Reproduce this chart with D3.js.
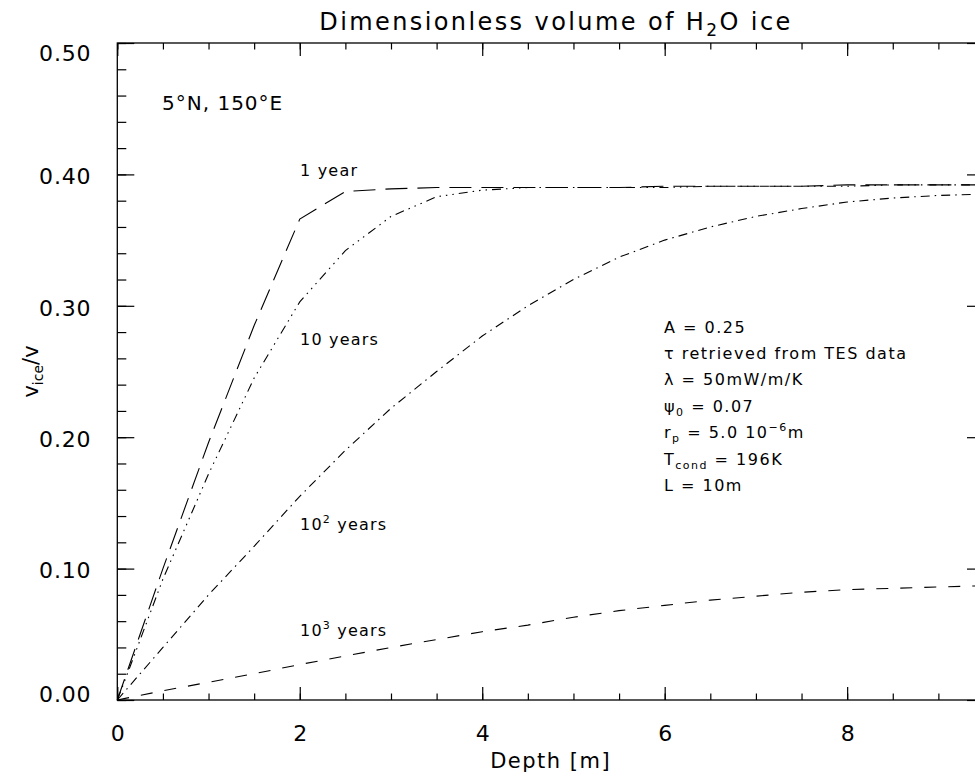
<!DOCTYPE html>
<html>
<head>
<meta charset="utf-8">
<script src="https://cdn.jsdelivr.net/npm/d3@7"></script>
<style>
  body { margin: 0; background: #fff; }
  text { font-family: "DejaVu Sans", sans-serif; fill: #000; }
</style>
</head>
<body>
<div id="chart"></div>
<script>
var width = 975;
var height = 779;

// depth grid [m]
var depth = [0, 0.1, 0.5, 1, 1.5, 2, 2.5, 3, 3.5, 4, 4.5, 5, 5.5, 6, 6.5, 7, 7.5, 8, 8.5, 9, 9.5];

// dimensionless ice volume for each age
var ice1 = [0, 0.02, 0.1, 0.196, 0.285, 0.366, 0.387, 0.389, 0.390, 0.390, 0.390, 0.390, 0.390, 0.391, 0.391, 0.391, 0.391, 0.392, 0.392, 0.392, 0.392];
var ice10 = [0, 0.018, 0.092, 0.172, 0.245, 0.303, 0.342, 0.368, 0.383, 0.388, 0.390, 0.390, 0.390, 0.390, 0.391, 0.391, 0.391, 0.391, 0.392, 0.392, 0.392];
var ice100 = [0, 0.008, 0.04, 0.08, 0.117, 0.155, 0.19, 0.222, 0.25, 0.277, 0.30, 0.32, 0.337, 0.35, 0.36, 0.368, 0.374, 0.379, 0.382, 0.384, 0.385];
var ice1000 = [0, 0.0014, 0.007, 0.0135, 0.020, 0.027, 0.0335, 0.040, 0.046, 0.052, 0.057, 0.063, 0.068, 0.072, 0.076, 0.079, 0.082, 0.084, 0.085, 0.086, 0.087];

var xTicks = [0, 2, 4, 6, 8];
var yTicks = [0, 0.1, 0.2, 0.3, 0.4, 0.5];

var params = ["A = 0.25", "τ retrieved from TES data", "λ = 50mW/m/K", "ψ0 = 0.07", "rp = 5.0 10-6m", "Tcond = 196K", "L = 10m"];

var plotLeft = 117.3, plotRight = 984, plotTop = 43, plotBottom = 700;

var xScale = d3.scaleLinear().domain([0, 9.5]).range([plotLeft, plotRight]);
var yScale = d3.scaleLinear().domain([0, 0.5]).range([plotBottom, plotTop]);

var svg = d3.select("#chart")
    .append("svg")
    .attr("width", width)
    .attr("height", height);

// frame
var xMinor = d3.range(0, 9.51, 0.5);
var yMinor = d3.range(0, 0.501, 0.02);

svg.append("g")
    .attr("transform", "translate(0," + plotBottom + ")")
    .call(d3.axisBottom(xScale).tickValues(xMinor).tickSize(-6.5).tickFormat(""))
    .call(function(g) { g.select(".domain").remove(); });
svg.append("g")
    .attr("transform", "translate(0," + plotBottom + ")")
    .call(d3.axisBottom(xScale).tickValues(xTicks).tickSize(-13).tickPadding(22).tickFormat(d3.format("d")))
    .call(function(g) {
        g.select(".domain").remove();
        g.selectAll("text").attr("font-size", 22).attr("font-family", "DejaVu Sans").attr("dy", "0.85em");
    });
svg.append("g")
    .attr("transform", "translate(0," + plotTop + ")")
    .call(d3.axisTop(xScale).tickValues(xMinor).tickSize(-6.5).tickFormat(""))
    .call(function(g) { g.select(".domain").remove(); });
svg.append("g")
    .attr("transform", "translate(0," + plotTop + ")")
    .call(d3.axisTop(xScale).tickValues(xTicks).tickSize(-13).tickFormat(""))
    .call(function(g) { g.select(".domain").remove(); });

svg.append("g")
    .attr("transform", "translate(" + plotLeft + ",0)")
    .call(d3.axisLeft(yScale).tickValues(yMinor).tickSize(-9).tickFormat(""))
    .call(function(g) { g.select(".domain").remove(); });
svg.append("g")
    .attr("transform", "translate(" + plotLeft + ",0)")
    .call(d3.axisLeft(yScale).tickValues(yTicks).tickSize(-17).tickPadding(26).tickFormat(d3.format(".2f")))
    .call(function(g) {
        g.select(".domain").remove();
        g.selectAll("text")
            .attr("font-size", 22).attr("font-family", "DejaVu Sans").attr("letter-spacing", 0.8)
            .attr("dy", function(d) { return d == 0.5 ? "0.8em" : (d == 0 ? "0.05em" : "0.42em"); });
    });
svg.append("g")
    .attr("transform", "translate(" + plotRight + ",0)")
    .call(d3.axisRight(yScale).tickValues(yMinor).tickSize(-9).tickFormat(""))
    .call(function(g) { g.select(".domain").remove(); });
svg.append("g")
    .attr("transform", "translate(" + plotRight + ",0)")
    .call(d3.axisRight(yScale).tickValues(yTicks).tickSize(-17).tickFormat(""))
    .call(function(g) { g.select(".domain").remove(); });

svg.selectAll(".tick line").attr("stroke", "#000").attr("stroke-width", 1.2);

svg.append("rect")
    .attr("x", plotLeft).attr("y", plotTop)
    .attr("width", plotRight - plotLeft).attr("height", plotBottom - plotTop)
    .attr("fill", "none").attr("stroke", "#000").attr("stroke-width", 1.3);

// curves
var line = d3.line()
    .x(function(d) { return xScale(d[0]); })
    .y(function(d) { return yScale(d[1]); });

var series = [
    { values: ice1, dash: "22,10" },
    { values: ice10, dash: "9,5,1.5,5,1.5,5,1.5,5" },
    { values: ice100, dash: "9,5,1.5,5" },
    { values: ice1000, dash: "12,12" }
];

svg.selectAll(".curve")
    .data(series)
    .enter()
    .append("path")
    .attr("class", "curve")
    .attr("fill", "none")
    .attr("stroke", "#000")
    .attr("stroke-width", 1.1)
    .attr("stroke-dasharray", function(d) { return d.dash; })
    .attr("d", function(d) { return line(depth.map(function(x, i) { return [x, d.values[i]]; })); });

// curve labels
function label(x, y, base, sup, rest) {
    var t = svg.append("text").attr("x", x).attr("y", y).attr("font-size", 16).attr("letter-spacing", 1.2);
    t.append("tspan").text(base);
    if (sup) {
        t.append("tspan").attr("dy", -7).attr("font-size", 11).text(sup);
        t.append("tspan").attr("dy", 7).text(rest);
    }
    return t;
}
label(300, 176, "1 year");
label(300, 345, "10 years");
label(300, 530, "10", "2", " years");
label(300, 636, "10", "3", " years");

// location
svg.append("text")
    .attr("x", 162).attr("y", 110)
    .attr("font-size", 20).attr("letter-spacing", 1)
    .text("5°N, 150°E");

// parameter block
var pBlock = svg.append("g").attr("font-size", 16);
var lineY = [333, 359, 385, 412, 438, 465, 491];
function ptext(i) {
    return pBlock.append("text").attr("x", 664).attr("y", lineY[i]).attr("letter-spacing", 1.5);
}
ptext(0).text(params[0]);
ptext(1).text(params[1]);
ptext(2).text(params[2]);
var p3 = ptext(3);
p3.append("tspan").text("ψ");
p3.append("tspan").attr("dy", 4).attr("font-size", 11).text("0");
p3.append("tspan").attr("dy", -4).text(" = 0.07");
var p4 = ptext(4);
p4.append("tspan").text("r");
p4.append("tspan").attr("dy", 4).attr("font-size", 11).text("p");
p4.append("tspan").attr("dy", -4).text(" = 5.0 10");
p4.append("tspan").attr("dy", -7).attr("font-size", 11).text("−6");
p4.append("tspan").attr("dy", 7).text("m");
var p5 = ptext(5);
p5.append("tspan").text("T");
p5.append("tspan").attr("dy", 4).attr("font-size", 11).text("cond");
p5.append("tspan").attr("dy", -4).text(" = 196K");
ptext(6).text(params[6]);

// title
var title = svg.append("text")
    .attr("x", 556).attr("y", 30)
    .attr("text-anchor", "middle")
    .attr("font-size", 24).attr("letter-spacing", 2.4);
title.append("tspan").text("Dimensionless volume of H");
title.append("tspan").attr("dy", 6).attr("font-size", 17).text("2");
title.append("tspan").attr("dy", -6).text("O ice");

// axis titles
svg.append("text")
    .attr("x", (plotLeft + plotRight) / 2).attr("y", 768)
    .attr("text-anchor", "middle")
    .attr("font-size", 21).attr("letter-spacing", 1.5)
    .text("Depth [m]");

var yl = svg.append("text")
    .attr("transform", "translate(38," + ((plotTop + plotBottom) / 2) + ") rotate(-90)")
    .attr("text-anchor", "middle")
    .attr("font-size", 21);
yl.append("tspan").text("v");
yl.append("tspan").attr("dy", 5).attr("font-size", 14).text("ice");
yl.append("tspan").attr("dy", -5).text("/v");
</script>
</body>
</html>
